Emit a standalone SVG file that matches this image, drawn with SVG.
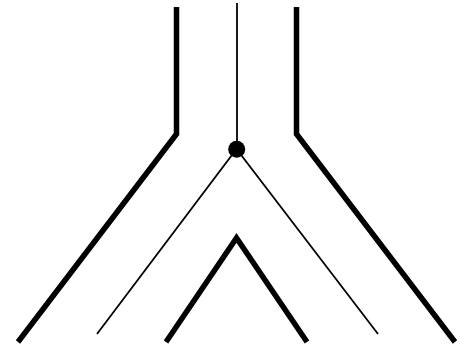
<svg xmlns="http://www.w3.org/2000/svg" width="468" height="346" viewBox="0 0 468 346">
<style>
.thick{fill:none;stroke:#000;stroke-width:5.5;stroke-linejoin:miter;stroke-linecap:butt}
.thin{fill:none;stroke:#000;stroke-width:1.8}
</style>
<rect width="468" height="346" fill="#fff"/>
<g id="connectors">
<polyline class="thick" points="176.5,7 176.5,134 18,342"/>
<polyline class="thick" points="296.5,7 296.5,134 455,342"/>
<polyline class="thick" points="166,342 236.5,238 307,342"/>
<line class="thin" x1="237" y1="3" x2="237" y2="149"/>
<polyline class="thin" points="97,334 236.5,149 378,334"/>
</g>
<g id="node-junction">
<circle cx="236.7" cy="149.3" r="8.5" fill="#000"/>
</g>
</svg>
